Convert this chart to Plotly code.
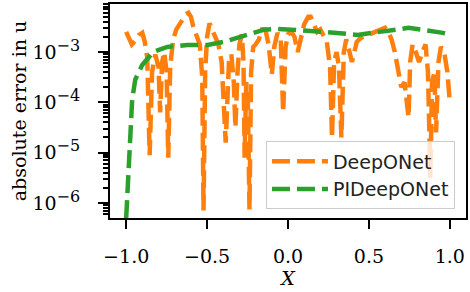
import plotly.graph_objects as go

# DeepONet absolute error (x, log10 error)
deep_x = [-1.000, -0.985, -0.965, -0.945, -0.920, -0.900, -0.885, -0.870, -0.855, -0.840,
          -0.820, -0.800, -0.790, -0.778, -0.765, -0.750, -0.740, -0.728, -0.710, -0.690,
          -0.660, -0.630, -0.615, -0.600, -0.585, -0.565, -0.545, -0.530, -0.522, -0.512,
          -0.500, -0.485, -0.470, -0.450, -0.430, -0.410, -0.385, -0.365, -0.350, -0.335,
          -0.325, -0.312, -0.300, -0.285, -0.275, -0.268, -0.258, -0.248, -0.238, -0.228,
          -0.215, -0.200, -0.180, -0.160, -0.140, -0.120, -0.100, -0.085, -0.065, -0.045,
          -0.030, -0.015, 0.000, 0.020, 0.040, 0.060, 0.075, 0.100, 0.125, 0.140,
          0.160, 0.180, 0.200, 0.220, 0.240, 0.260, 0.272, 0.285, 0.300, 0.315,
          0.330, 0.345, 0.360, 0.380, 0.395, 0.410, 0.425, 0.450, 0.480, 0.510,
          0.540, 0.570, 0.600, 0.620, 0.640, 0.660, 0.680, 0.700, 0.720, 0.745,
          0.755, 0.770, 0.790, 0.810, 0.830, 0.850, 0.865, 0.880, 0.890, 0.905,
          0.915, 0.930, 0.945, 0.965, 0.985, 1.000]
deep_log = [-2.60, -2.72, -2.85, -2.78, -2.66, -2.62, -2.80, -3.10, -5.05, -3.40,
            -3.05, -3.30, -4.20, -3.20, -3.00, -3.40, -5.10, -3.30, -2.75, -2.55,
            -2.40, -2.25, -2.22, -2.30, -2.50, -2.65, -2.85, -3.50, -6.15, -3.40,
            -2.70, -2.43, -2.55, -2.70, -2.85, -3.20, -4.80, -3.20, -3.05, -3.60,
            -4.50, -3.40, -2.85, -2.65, -3.20, -5.10, -3.60, -4.00, -6.13, -3.40,
            -2.90, -2.85, -2.75, -2.55, -2.55, -2.85, -3.45, -2.90, -2.62, -2.75,
            -4.20, -2.90, -2.65, -2.60, -2.70, -3.00, -2.75, -2.45, -2.30, -2.30,
            -2.45, -2.60, -2.55, -2.70, -2.80, -3.30, -4.70, -3.20, -3.00, -3.30,
            -4.70, -3.00, -2.75, -3.00, -3.20, -3.00, -2.80, -2.72, -2.68, -2.62,
            -2.58, -2.55, -2.52, -2.60, -2.75, -3.00, -3.30, -3.70, -3.60, -4.30,
            -3.20, -2.85, -3.00, -3.20, -3.00, -2.85, -3.40, -5.50, -3.60, -3.40,
            -4.60, -3.20, -2.90, -3.00, -3.40, -4.00]

# PIDeepONet absolute error (x, log10 error)
pi_x = [-1.000, -0.994, -0.981, -0.963, -0.944, -0.901, -0.833, -0.746, -0.622, -0.498,
        -0.399, -0.251, -0.152, -0.065, 0.077, 0.220, 0.430, 0.591, 0.746, 0.957, 1.000]
pi_log = [-6.30, -5.93, -4.74, -3.95, -3.55, -3.26, -3.00, -2.90, -2.86, -2.86,
          -2.80, -2.66, -2.56, -2.54, -2.56, -2.60, -2.66, -2.60, -2.52, -2.62, -2.66]

ytick_vals = [1e-6, 1e-5, 1e-4, 1e-3]
ytick_exps = ["−6", "−5", "−4", "−3"]
xtick_vals = [-1.0, -0.5, 0.0, 0.5, 1.0]
xtick_text = ["−1.0", "−0.5", "0.0", "0.5", "1.0"]
minor_decades = [1e-7, 1e-6, 1e-5, 1e-4, 1e-3]
minor_mults = [2, 3, 4, 5, 6, 7, 8, 9]

deep_y = [10 ** v for v in deep_log]
pi_y = [10 ** v for v in pi_log]
ytick_text = ["10<sup><span style='font-size:16px'>%s</span></sup>" % e for e in ytick_exps]
minor_vals = [d * m for d in minor_decades for m in minor_mults]

yrange = [-6.3, -2.046]

fig = go.Figure()
fig.add_trace(go.Scatter(x=deep_x, y=deep_y, mode="lines", name="DeepONet",
                         line=dict(color="#ff7f0e", width=4.5, dash="18px,7px")))
fig.add_trace(go.Scatter(x=pi_x, y=pi_y, mode="lines", name="PIDeepONet",
                         line=dict(color="#2ca02c", width=4.5, dash="18px,7px")))
# carrier for the minor-tick axis (no visible marks)
fig.add_trace(go.Scatter(x=[pi_x[0]], y=[pi_y[-1]], yaxis="y2", mode="markers",
                         marker=dict(opacity=0), showlegend=False, hoverinfo="skip"))

serif = "DejaVu Serif"
fig.update_layout(
    width=470, height=292,
    margin=dict(l=110, r=4, t=4, b=74),
    plot_bgcolor="white", paper_bgcolor="white",
    font=dict(family=serif, size=18, color="black"),
    legend=dict(x=0.969, y=0.04, xanchor="right", yanchor="bottom",
                bgcolor="rgba(255,255,255,0.8)", bordercolor="#cccccc", borderwidth=1,
                font=dict(family="DejaVu Sans", size=19, color="#222222"),
                tracegroupgap=0, itemwidth=56),
    xaxis=dict(
        range=[-1.1, 1.1], tickvals=xtick_vals, ticktext=xtick_text,
        ticks="outside", ticklen=9, tickwidth=2, tickcolor="black",
        showline=True, linecolor="black", linewidth=2, mirror=True,
        showgrid=False, zeroline=False, automargin=False,
        tickfont=dict(family=serif, size=19),
        title=dict(text="<i>X</i>", font=dict(family=serif, size=19), standoff=5),
        ticklabelstandoff=11,
    ),
    yaxis=dict(
        type="log", range=yrange, tickvals=ytick_vals, ticktext=ytick_text,
        ticks="outside", ticklen=10, tickwidth=2, tickcolor="black",
        showline=True, linecolor="black", linewidth=2, mirror=True,
        showgrid=False, zeroline=False, automargin=False,
        tickfont=dict(family=serif, size=19),
        title=dict(text="absolute error in u", font=dict(family=serif, size=19), standoff=1),
        ticklabelstandoff=14,
    ),
    yaxis2=dict(type="log", range=yrange, overlaying="y", anchor="x", side="left",
                tickvals=minor_vals, showticklabels=False,
                ticks="outside", ticklen=6, tickwidth=1.5, tickcolor="black",
                showgrid=False, zeroline=False, showline=False, automargin=False),
)

fig.write_html("out.html", post_script="document.body.style.margin='0';",
               config={"displayModeBar": False})
